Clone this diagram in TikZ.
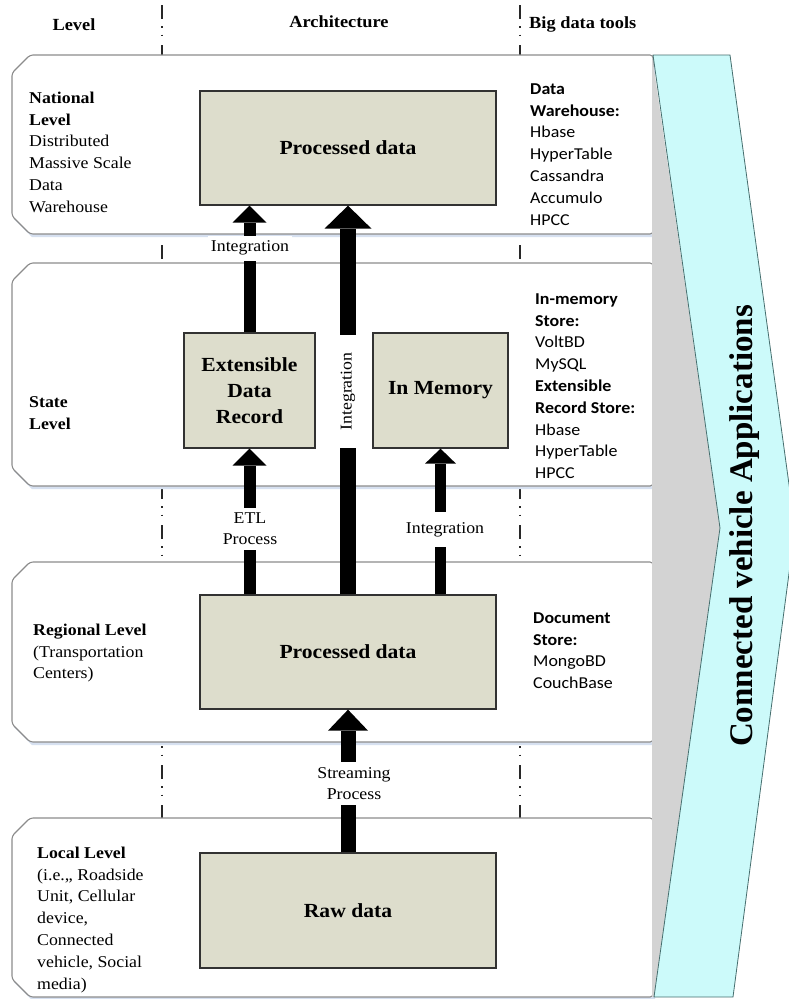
\documentclass[tikz,border=0pt]{standalone}
\usepackage{fontspec}
\setmainfont{Liberation Serif}[FakeStretch=1.08]
\newfontfamily\calib{Carlito}[FakeStretch=1.08]
\newfontfamily\vfont{Liberation Serif}
\usetikzlibrary{arrows.meta}
\definecolor{panelline}{RGB}{140,140,140}
\definecolor{panelshadow}{RGB}{214,224,240}
\definecolor{boxfill}{RGB}{221,221,204}
\definecolor{boxline}{RGB}{50,50,50}
\definecolor{chevfill}{RGB}{204,250,250}
\definecolor{chevline}{RGB}{70,110,110}
\definecolor{chevshadow}{RGB}{211,211,211}
\definecolor{divline}{RGB}{40,40,40}
\newcommand{\levelpanel}[2]{%
  \fill[panelshadow] (14,#1+20) -- (32,#1+2) -- (655,#1+2) -- (655,#2+3) -- (32,#2+3) -- (14,#2-15) -- cycle;
  \draw[panel] (30,#1) -- (653,#1) -- (653,#2) -- (30,#2) -- (12,#2-18) -- (12,#1+18) -- cycle;}
\begin{document}
\begin{tikzpicture}[x=1pt,y=-1pt,
  panel/.style={draw=panelline, line width=1.1pt, fill=white, rounded corners=3pt},
  divider/.style={draw=divline, line width=1.3pt, dash pattern=on 14pt off 7pt on 1.5pt off 7pt on 1.5pt off 9pt},
  databox/.style={draw=boxline, line width=1.3pt, fill=boxfill, align=center, inner sep=0pt,
    font=\fontsize{20}{26}\selectfont\bfseries},
  fatarrow/.style n args={3}{draw=black, line width=#1, -{Triangle[width=#2,length=#3,line width=0pt]}},
  arrlabel/.style={fill=white, align=center, inner xsep=3pt, inner ysep=0pt, font=\fontsize{16.5}{21}\selectfont},
  lefttext/.style={anchor=north west, inner sep=0pt, align=left, font=\fontsize{16.5}{21.8}\selectfont},
  righttext/.style={anchor=north west, inner sep=0pt, align=left, font=\calib\fontsize{16.6}{21.8}\selectfont},
  header/.style={anchor=base, inner sep=0pt, font=\fontsize{17}{20}\selectfont\bfseries}]
\useasboundingbox (0,0) rectangle (789,999);
\clip (0,0) rectangle (789,999);
\fill[white] (0,0) rectangle (789,999);

% column dividers (hidden behind the level panels)
\draw[divider] (162,5) -- (162,997);
\draw[divider] (520,5) -- (520,997);

% header
\node[header] (hlevel) at (74,30.5) {Level};
\node[header] (harch) at (339,27.5) {Architecture};
\node[header, anchor=base west] (htools) at (529,28.5) {Big data tools};

% level panels
\levelpanel{55}{234}
\levelpanel{263}{486}
\levelpanel{562}{742}
\levelpanel{818}{997}

% chevron with its shadow
\fill[chevshadow] (652,55) -- (720,528) -- (654,997) -- (652,997) -- cycle;
\draw[draw=chevline, line width=0.8pt, fill=chevfill] (653,55) -- (730,55) -- (795,528) -- (733,997) -- (654,997) -- (720,528) -- cycle;
\node[rotate=90, anchor=base, inner sep=0pt, font=\vfont\fontsize{33}{33}\selectfont\bfseries] (cva) at (752,526) {Connected vehicle Applications};

% level descriptions
\node[lefttext] (tnat) at (29,90) {\rule{0pt}{13pt}\textbf{National}\\\textbf{Level}\\Distributed\\Massive Scale\\Data\\Warehouse};
\node[lefttext] (tstate) at (29,394) {\rule{0pt}{13pt}\textbf{State}\\\textbf{Level}};
\node[lefttext] (treg) at (33,622) {\rule{0pt}{13pt}\textbf{Regional Level}\\(Transportation\\Centers)};
\node[lefttext] (tloc) at (37,845) {\rule{0pt}{13pt}\textbf{Local Level}\\(i.e.,, Roadside\\Unit, Cellular\\device,\\Connected\\vehicle, Social\\media)};

% big data tools
\node[righttext] (tdw) at (530,81) {\rule{0pt}{13pt}\textbf{Data}\\\textbf{Warehouse:}\\Hbase\\HyperTable\\Cassandra\\Accumulo\\HPCC};
\node[righttext] (tim) at (535,291) {\rule{0pt}{13pt}\textbf{In-memory}\\\textbf{Store:}\\VoltBD\\MySQL\\\textbf{Extensible}\\\textbf{Record Store:}\\Hbase\\HyperTable\\HPCC};
\node[righttext] (tdoc) at (533,610) {\rule{0pt}{13pt}\textbf{Document}\\\textbf{Store:}\\MongoBD\\CouchBase};

% architecture boxes
\node[databox, minimum width=296pt, minimum height=114pt] (pd1) at (348,148) {Processed data};
\node[databox, minimum width=131pt, minimum height=115pt] (edr) at (249.5,390.5) {Extensible\\Data\\Record};
\node[databox, minimum width=135pt, minimum height=115pt] (mem) at (440.5,390.5) {In Memory};
\node[databox, minimum width=296pt, minimum height=114pt] (pd2) at (348,652) {Processed data};
\node[databox, minimum width=296pt, minimum height=115pt] (raw) at (348,910.5) {Raw data};

% arrows
\draw[fatarrow={12pt}{34pt}{17pt}] (edr.north) -- (edr.north |- pd1.south);
\draw[fatarrow={16pt}{47pt}{23pt}] (pd2.north) -- (pd1.south);
\draw[fatarrow={12pt}{34pt}{17pt}] (edr.south |- pd2.north) -- (edr.south);
\draw[fatarrow={11pt}{31pt}{15pt}] (mem.south |- pd2.north) -- (mem.south);
\draw[fatarrow={15pt}{40pt}{21pt}] (raw.north) -- (pd2.south);

% arrow labels
\node[arrlabel, minimum height=25pt] (l1) at (250,248) {Integration};
\node[arrlabel, rotate=90, minimum width=113pt, minimum height=22pt] (l2) at (348,391.5) {Integration};
\node[arrlabel, minimum height=42pt] (l3) at (250,529) {ETL\\Process};
\node[arrlabel, minimum height=35pt] (l4) at (445,529.5) {Integration};
\node[arrlabel, minimum height=43pt] (l5) at (354,783.5) {Streaming\\Process};
\end{tikzpicture}
\end{document}
